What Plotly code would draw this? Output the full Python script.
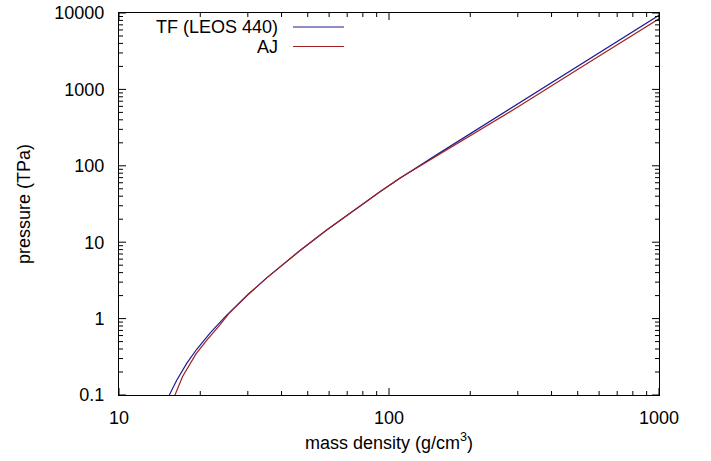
import plotly.graph_objects as go

# TF (LEOS 440) curve
rho_tf = [15.36, 16.36, 17.81, 19.40, 21.73, 25.06, 30.12, 35.24, 46.82, 58.78,
          92.6, 109.8, 150, 217.3, 300, 509.7, 700, 1000]
p_tf = [0.1, 0.156, 0.259, 0.397, 0.647, 1.11, 2.08, 3.41, 7.78, 14.4,
        45.8, 68.7, 139, 316, 650, 2133, 4285, 9330]

# AJ curve
rho_aj = [16.12, 17.2, 19.28, 21.3, 23.65, 25.5, 30.12, 35.24, 46.82, 58.78,
          92.6, 109.8, 150, 217.3, 300, 509.7, 700, 1000]
p_aj = [0.1, 0.175, 0.345, 0.54, 0.83, 1.16, 2.08, 3.41, 7.78, 14.4,
        45.8, 69.0, 134, 293, 587, 1909, 3857, 8400]

names = ["TF (LEOS 440)", "AJ"]
colors = ["#1c1c96", "#a32020"]

x_ticks = [10, 100, 1000]
x_ticktext = ["10", "100", "1000"]
y_ticks = [0.1, 1, 10, 100, 1000, 10000]
y_ticktext = ["0.1", "1", "10", "100", "1000", "10000"]

FONT = "Liberation Sans, Arial, Helvetica, sans-serif"
W, H = 711, 461
L, R, T, B = 119, 52, 13, 66
pw = W - L - R
ph = H - T - B
MAJOR_LEN, MINOR_LEN = 7, 4


def minor_vals(majors):
    out = []
    for v in majors[:-1]:
        out += [v * m for m in range(2, 10)]
    return out


fig = go.Figure()
fig.add_trace(go.Scatter(x=rho_tf, y=p_tf, mode="lines", name=names[0],
                         line=dict(color=colors[0], width=1.2), showlegend=False))
fig.add_trace(go.Scatter(x=rho_aj, y=p_aj, mode="lines", name=names[1],
                         line=dict(color=colors[1], width=1.2), showlegend=False))

# inward, mirrored tick marks drawn on the log axes (gnuplot style)
xlo, xhi = x_ticks[0], x_ticks[-1]
ylo, yhi = y_ticks[0], y_ticks[-1]
px_per_dec_x = pw / 2.0
px_per_dec_y = ph / 5.0
tx, ty = [], []
for vals, ln in ((x_ticks, MAJOR_LEN), (minor_vals(x_ticks), MINOR_LEN)):
    f = 10 ** (ln / px_per_dec_y)
    for v in vals:
        tx += [v, v, None, v, v, None]
        ty += [ylo, ylo * f, None, yhi, yhi / f, None]
for vals, ln in ((y_ticks, MAJOR_LEN), (minor_vals(y_ticks), MINOR_LEN)):
    f = 10 ** (ln / px_per_dec_x)
    for v in vals:
        tx += [xlo, xlo * f, None, xhi, xhi / f, None]
        ty += [v, v, None, v, v, None]
fig.add_trace(go.Scatter(x=tx, y=ty, mode="lines", line=dict(color="black", width=1),
                         hoverinfo="skip", showlegend=False, cliponaxis=False))

font = dict(family=FONT, size=18, color="black")


def ax(**kw):
    d = dict(showline=True, linecolor="black", linewidth=1, mirror=True,
             ticks="", showgrid=False, zeroline=False, type="log", tickmode="array")
    d.update(kw)
    return d


fig.update_layout(
    xaxis=ax(range=[1, 3], tickvals=x_ticks, ticktext=x_ticktext,
             ticklabelstandoff=6, tickfont=font),
    yaxis=ax(range=[-1, 4], tickvals=y_ticks, ticktext=y_ticktext,
             ticklabelstandoff=10, tickfont=font),
)


def px(x):
    return (x - L) / pw


def py(y):
    return 1 - (y - T) / ph


annotations = [
    dict(text="mass density (g/cm<sup>3</sup>)", x=0.5, y=py(441), xref="paper", yref="paper",
         xanchor="center", yanchor="middle", showarrow=False, font=font),
    dict(text="pressure (TPa)", x=px(24), y=0.5, xref="paper", yref="paper",
         xanchor="center", yanchor="middle", textangle=-90, showarrow=False, font=font),
]
shapes = []
legend_y = [27, 46.5]
for name, col, ly in zip(names, colors, legend_y):
    annotations.append(dict(text=name, x=px(280), y=py(ly), xref="paper", yref="paper",
                            xanchor="right", yanchor="middle", showarrow=False, font=font))
    shapes.append(dict(type="line", xref="paper", yref="paper",
                       x0=px(293), x1=px(344), y0=py(ly), y1=py(ly),
                       line=dict(color=col, width=1.2)))

fig.update_layout(
    width=W, height=H,
    margin=dict(l=L, r=R, t=T, b=B, autoexpand=False),
    paper_bgcolor="white", plot_bgcolor="white",
    font=font, annotations=annotations, shapes=shapes,
)

fig.write_html("out.html")
